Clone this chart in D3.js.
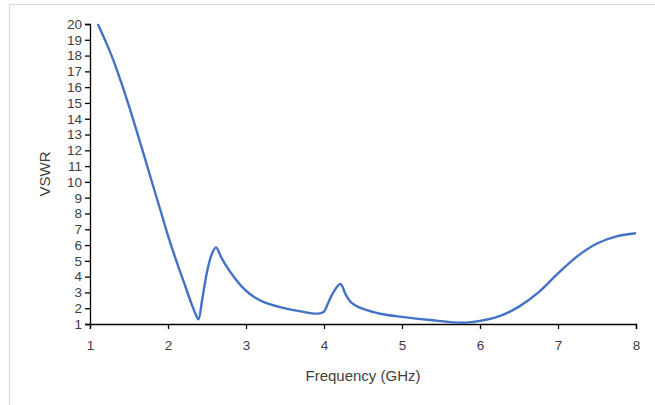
<!DOCTYPE html>
<html>
<head>
<meta charset="utf-8">
<script src="https://cdn.jsdelivr.net/npm/d3@7"></script>
<style>
  body { margin: 0; background: #fff; }
  svg { display: block; }
  text { font-family: "Liberation Sans", Arial, sans-serif; fill: #404040; }
</style>
</head>
<body>
<svg width="655" height="405"></svg>
<script>
// frequency (GHz) en VSWR
var freq = [1.1, 1.2, 1.3, 1.4, 1.5, 1.6, 1.7, 1.8, 1.9, 2.0, 2.1, 2.2, 2.3, 2.36, 2.39, 2.44,
            2.5, 2.56, 2.615, 2.68, 2.75, 2.85, 2.95, 3.05, 3.2, 3.45, 3.7, 3.93, 4.0, 4.05,
            4.12, 4.21, 4.28, 4.35, 4.45, 4.55, 4.72, 5.0, 5.36, 5.79, 6.0, 6.25, 6.5, 6.75,
            7.0, 7.25, 7.5, 7.75, 8.0];
var vswr = [20, 18.9, 17.7, 16.3, 14.8, 13.2, 11.55, 9.9, 8.25, 6.6, 5.1, 3.7, 2.3, 1.55, 1.3, 2.6,
            4.3, 5.4, 5.85, 5.25, 4.65, 3.95, 3.35, 2.9, 2.45, 2.05, 1.8, 1.66, 1.78, 2.3,
            3.0, 3.53, 2.85, 2.35, 2.05, 1.88, 1.65, 1.45, 1.25, 1.08, 1.2, 1.5, 2.1, 3.0,
            4.2, 5.3, 6.1, 6.55, 6.75];
var xTicks = [1, 2, 3, 4, 5, 6, 7, 8];
var yTicks = d3.range(1, 21); // 1 t/m 20

var svg = d3.select("svg"),
    margin = { top: 24, right: 19, bottom: 81, left: 90 },
    width = +svg.attr("width") - margin.left - margin.right,
    height = +svg.attr("height") - margin.top - margin.bottom;

// lichtgrijze rand van het grafiekgebied
svg.append("rect")
    .attr("x", 9.5).attr("y", 4.5)
    .attr("width", 700).attr("height", 500)
    .attr("fill", "none")
    .attr("stroke", "#d9d9d9");

var x = d3.scaleLinear().domain([1, 8]).range([0, width]),
    y = d3.scaleLinear().domain([1, 20]).range([height, 0]);

var g = svg.append("g")
    .attr("transform", "translate(" + margin.left + "," + margin.top + ")");

var xAxis = g.append("g")
    .attr("transform", "translate(0," + height + ")")
    .call(d3.axisBottom(x).tickValues(xTicks).tickSize(5).tickPadding(11).tickFormat(d3.format("d")));

var yAxis = g.append("g")
    .call(d3.axisLeft(y).tickValues(yTicks).tickSize(5).tickPadding(3).tickFormat(d3.format("d")));

[xAxis, yAxis].forEach(function (a) {
    a.select(".domain").attr("stroke", "#000").attr("stroke-width", 1.3);
    a.selectAll(".tick line").attr("stroke", "#000").attr("stroke-width", 1.3);
    a.selectAll(".tick text")
        .attr("fill", "#404040")
        .style("font-family", "'Liberation Sans', Arial, sans-serif")
        .style("font-size", "13.5px");
});

// de lijn
var line = d3.line()
    .x(function (d, i) { return x(freq[i]); })
    .y(function (d) { return y(d); })
    .curve(d3.curveCatmullRom.alpha(0.5));

g.append("path")
    .datum(vswr)
    .attr("fill", "none")
    .attr("stroke", "#4472c4")
    .attr("stroke-width", 2.4)
    .attr("stroke-linejoin", "round")
    .attr("d", line);

// as titels
svg.append("text")
    .attr("transform", "translate(50," + (margin.top + height / 2) + ") rotate(-90)")
    .attr("text-anchor", "middle")
    .style("font-size", "15px")
    .text("VSWR");

svg.append("text")
    .attr("x", margin.left + width / 2)
    .attr("y", 381)
    .attr("text-anchor", "middle")
    .style("font-size", "15px")
    .text("Frequency (GHz)");
</script>
</body>
</html>
